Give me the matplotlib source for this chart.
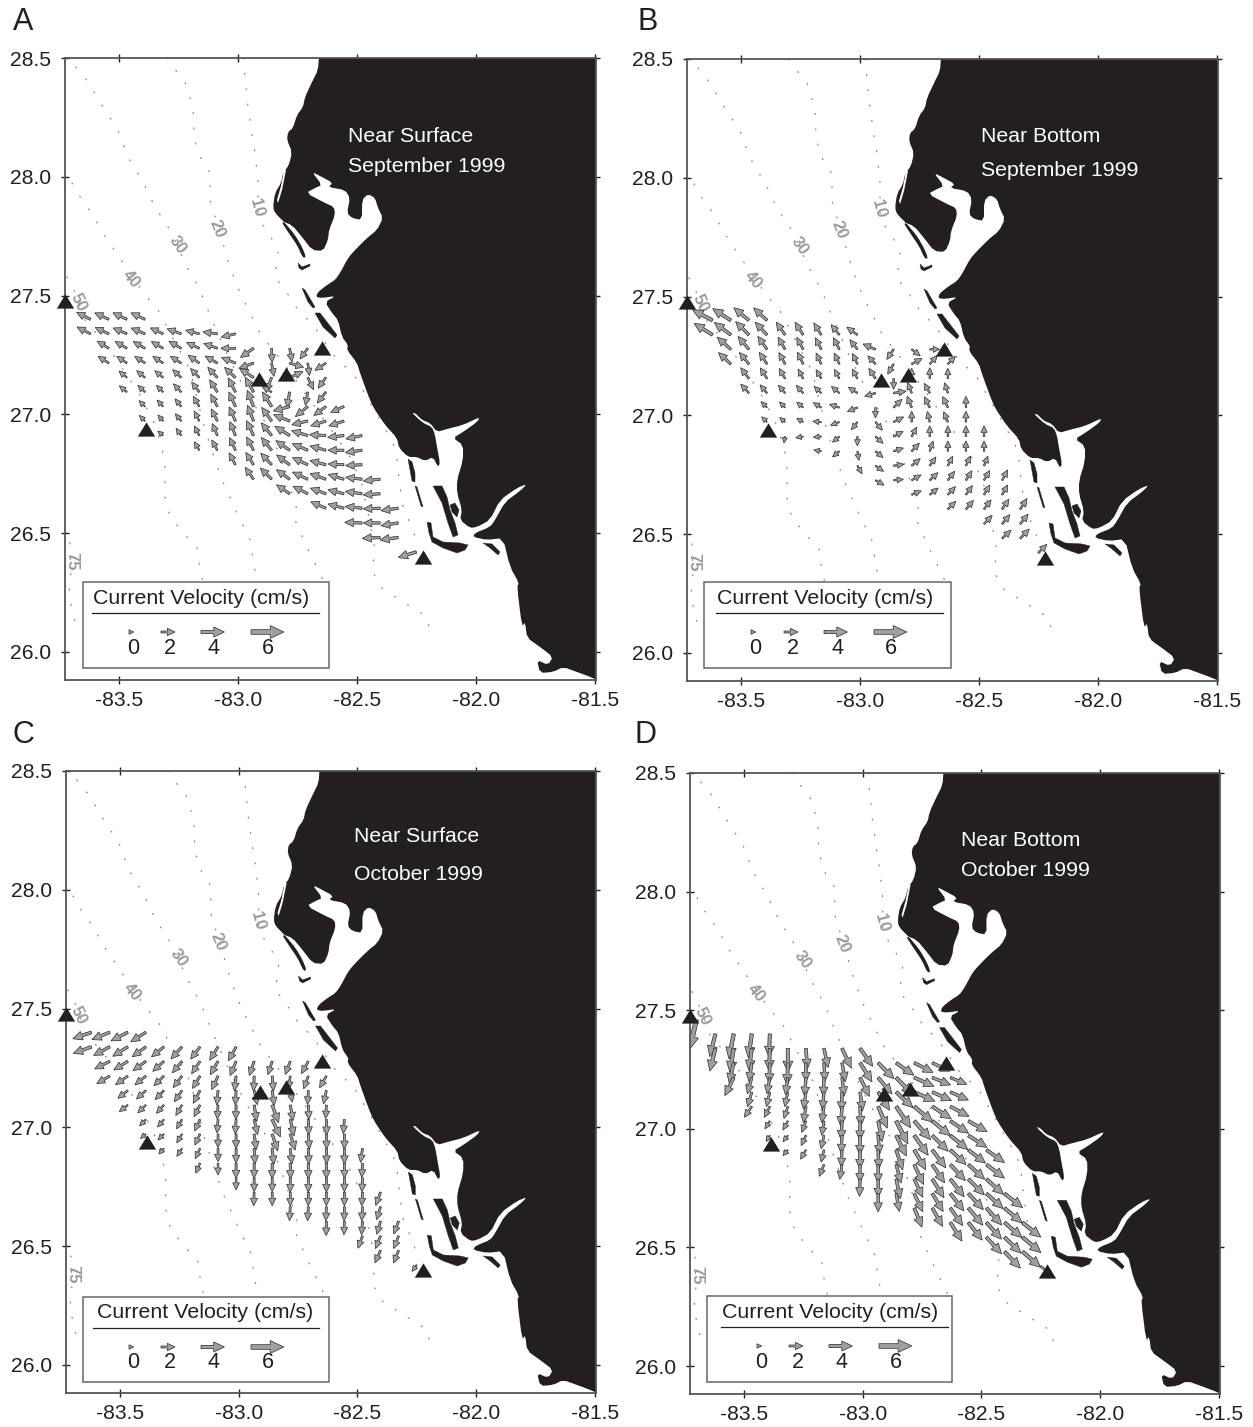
import numpy as np
import matplotlib
matplotlib.use("Agg")
import matplotlib.pyplot as plt
from matplotlib.patches import Rectangle

plt.rcParams['font.family'] = ['Liberation Sans', 'DejaVu Sans']
plt.rcParams['axes.unicode_minus'] = False

W, H = 1253, 1427
INK = '#231f20'

# ---------- measurement grid (degrees) ----------
LON_GRID = [-83.62, -83.543, -83.467, -83.391, -83.315, -83.239, -83.163, -83.087, -83.011, -82.935,
            -82.859, -82.783, -82.707, -82.631, -82.555, -82.479, -82.403, -82.327, -82.251]
LAT_GRID = [27.40, 27.339, 27.278, 27.216, 27.155, 27.094, 27.033, 26.972, 26.911, 26.849,
            26.788, 26.727, 26.666, 26.605, 26.543, 26.482, 26.421]
ROW_FIRST_COL = [0, 0, 1, 1, 2, 2, 3, 3, 4, 6, 8, 9, 11, 13, 15, 16, 18]

# ---------- stations ----------
STATION_LON = [-83.727, -83.387, -82.912, -82.799, -82.648, -82.223]
STATION_LAT = [27.477, 26.938, 27.148, 27.169, 27.279, 26.399]

# ---------- current speed (cm/s) and direction (deg CCW from east) per grid row ----------
SPEED_A = [[2.3, 2.3, 2.3, 2.3],
           [2.2, 2.2, 2.2, 2.2, 2.0, 2.2, 2.0, 2.1, 2.1],
           [1.9, 1.9, 1.9, 1.9, 2.0, 2.0, 2.1, 2.1, 2.4, 2.0, 1.9, 1.8],
           [1.7, 1.6, 1.6, 1.6, 1.7, 1.9, 2.0, 2.2, 2.3, 1.9, 2.1, 1.7, 1.8],
           [1.2, 1.3, 1.3, 1.5, 1.7, 2.0, 2.2, 2.5, 2.3, 2.1, 1.9, 1.8],
           [1.1, 1.1, 1.0, 1.4, 1.7, 2.1, 2.4, 2.6, 1.3, 2.4, 1.9, 2.0],
           [0.8, 0.9, 1.1, 1.5, 2.0, 2.4, 2.7, 2.7, 2.6, 2.4, 2.2, 2.1],
           [0.7, 0.7, 1.0, 1.4, 1.9, 2.3, 2.6, 2.6, 2.7, 2.5, 2.4, 2.4],
           [0.5, 0.9, 1.3, 1.8, 2.2, 2.5, 2.5, 2.7, 2.6, 2.5, 2.5, 2.5],
           [1.1, 1.5, 2.0, 2.2, 2.5, 2.6, 2.6, 2.5, 2.4, 2.6],
           [1.9, 2.1, 2.4, 2.5, 2.6, 2.5, 2.4, 2.5],
           [2.1, 2.4, 2.5, 2.6, 2.6, 2.5, 2.5, 2.6],
           [2.4, 2.5, 2.5, 2.5, 2.6, 2.6],
           [2.5, 2.5, 2.6, 2.6, 2.7],
           [2.7, 2.6, 2.7],
           [2.8, 2.9],
           [3.0]]
DIR_A = [[153, 155, 155, 155],
         [153, 155, 157, 157, 155, 160, 165, 172, 193],
         [148, 150, 150, 150, 150, 155, 160, 180, 215, 272, 280, 234],
         [148, 146, 147, 147, 148, 145, 150, 158, 200, 280, 343, 278, 214],
         [140, 140, 140, 137, 134, 133, 137, 147, 248, 24, 296, 234],
         [140, 137, 135, 133, 127, 122, 117, 119, 150, 260, 260, 232],
         [135, 132, 128, 120, 118, 114, 111, 122, 195, 219, 217, 204],
         [135, 130, 128, 117, 117, 114, 111, 126, 158, 193, 198, 198],
         [140, 125, 117, 113, 112, 115, 129, 148, 163, 177, 187, 192],
         [120, 118, 115, 117, 129, 145, 157, 165, 180, 188],
         [118, 122, 133, 143, 155, 165, 177, 183],
         [125, 135, 144, 155, 160, 163, 173, 186],
         [146, 153, 160, 166, 172, 184],
         [157, 165, 174, 182, 188],
         [178, 180, 189],
         [183, 188],
         [197]]
SPEED_B = [[3.8, 3.6, 3.2, 2.9],
           [3.6, 3.4, 3.0, 2.7, 2.3, 2.2, 2.0, 1.8, 1.8],
           [2.9, 2.6, 2.4, 2.0, 1.9, 1.8, 1.8, 1.6, 1.9, 1.6, 1.3, 1.1],
           [2.6, 2.2, 2.0, 1.8, 1.8, 1.6, 1.6, 1.5, 1.4, 1.5, 1.5, 1.4, 1.3],
           [1.9, 1.7, 1.5, 1.3, 1.2, 1.2, 1.3, 1.6, 1.3, 1.2, 1.3, 1.2],
           [1.6, 1.3, 1.2, 1.2, 1.1, 1.2, 1.3, 1.4, 1.7, 1.4, 1.4, 1.3],
           [0.8, 0.7, 0.8, 1.0, 1.2, 1.3, 1.2, 1.5, 1.6, 1.6, 1.6, 1.4],
           [0.6, 0.5, 0.6, 0.8, 1.0, 1.1, 1.3, 1.4, 1.3, 1.3, 1.4, 1.3],
           [0.4, 0.6, 0.7, 0.9, 1.0, 1.2, 1.3, 1.3, 1.3, 1.3, 1.3, 1.3],
           [0.6, 0.9, 1.0, 1.1, 1.2, 1.4, 1.3, 1.2, 1.2, 1.2],
           [1.0, 1.1, 1.2, 1.4, 1.3, 1.3, 1.3, 1.2],
           [1.1, 1.1, 1.3, 1.4, 1.4, 1.4, 1.4, 1.5],
           [1.2, 1.3, 1.4, 1.4, 1.4, 1.4],
           [1.4, 1.5, 1.5, 1.6, 1.7],
           [1.5, 1.6, 1.7],
           [1.6, 1.8],
           [1.6]]
DIR_B = [[152, 147, 140, 137],
         [148, 143, 135, 133, 125, 123, 122, 129, 144],
         [138, 130, 125, 120, 118, 117, 117, 128, 157, 236, 323, 0],
         [137, 129, 123, 118, 115, 115, 115, 115, 133, 240, 28, 49, 46],
         [127, 122, 120, 118, 120, 118, 118, 123, 270, 90, 90, 90],
         [132, 130, 130, 132, 137, 140, 147, 197, 8, 112, 120, 108],
         [135, 135, 140, 148, 162, 202, 270, 45, 112, 117, 115, 90],
         [135, 140, 150, 175, 200, 232, 310, 27, 90, 103, 112, 90],
         [260, 190, 185, 220, 270, 318, 28, 62, 90, 90, 90, 90],
         [170, 220, 280, 320, 18, 47, 72, 90, 90, 90],
         [300, 325, 8, 40, 55, 63, 65, 68],
         [330, 5, 30, 43, 53, 58, 60, 62],
         [22, 39, 47, 55, 60, 60],
         [45, 50, 53, 56, 58],
         [46, 50, 51],
         [43, 46],
         [45]]
SPEED_C = [[3.2, 3.1, 3.0, 2.8],
           [3.1, 2.9, 2.8, 2.6, 2.4, 2.5, 2.3, 2.4, 2.4],
           [2.6, 2.5, 2.4, 2.2, 2.2, 2.2, 2.3, 2.3, 2.2, 2.0, 2.0, 2.0],
           [2.2, 2.2, 2.0, 2.0, 2.1, 2.1, 2.2, 2.2, 2.2, 2.2, 1.8, 1.9, 1.9],
           [1.7, 1.7, 1.7, 1.9, 2.1, 2.1, 2.1, 2.1, 2.2, 1.5, 2.0, 1.9],
           [1.3, 1.4, 1.4, 1.6, 1.8, 2.0, 2.1, 2.5, 3.0, 2.4, 2.1, 1.9],
           [0.9, 1.1, 1.3, 1.7, 1.9, 2.1, 2.3, 3.1, 2.6, 2.3, 2.3, 2.0],
           [0.5, 0.8, 1.2, 1.6, 1.9, 2.1, 2.4, 2.8, 2.6, 2.2, 2.2, 2.2],
           [0.6, 1.0, 1.4, 1.8, 2.1, 2.3, 2.4, 2.3, 2.3, 2.3, 2.3, 2.0],
           [1.3, 1.5, 2.2, 2.2, 2.3, 2.3, 2.3, 2.3, 2.2, 2.0],
           [1.6, 2.0, 2.0, 2.1, 2.1, 2.1, 2.0, 2.0],
           [1.9, 1.9, 1.9, 1.9, 1.9, 1.9, 1.9, 2.0],
           [2.0, 2.0, 2.0, 2.0, 2.0, 1.9],
           [2.1, 1.9, 1.9, 1.9, 1.9],
           [1.8, 1.9, 1.9],
           [1.9, 1.9],
           [0.7]]
DIR_C = [[199, 202, 207, 212],
         [200, 208, 212, 216, 219, 228, 233, 238, 241],
         [207, 212, 216, 222, 230, 236, 240, 247, 251, 252, 249, 241],
         [210, 215, 219, 224, 233, 239, 245, 264, 268, 275, 263, 250, 240],
         [218, 222, 226, 236, 242, 265, 267, 283, 278, 280, 267, 258],
         [218, 224, 228, 240, 243, 267, 269, 279, 290, 280, 272, 267],
         [225, 230, 240, 245, 266, 267, 283, 295, 283, 272, 271, 265],
         [220, 225, 240, 245, 270, 270, 278, 288, 287, 274, 271, 270],
         [228, 237, 245, 270, 270, 273, 276, 276, 272, 271, 270, 262],
         [247, 270, 270, 270, 270, 271, 270, 270, 270, 267],
         [270, 270, 270, 270, 270, 270, 270, 268],
         [268, 270, 270, 270, 270, 270, 267, 250],
         [267, 267, 268, 269, 267, 253],
         [269, 268, 266, 254, 249],
         [250, 248, 249],
         [246, 248],
         [235]]
SPEED_D = [[4.0, 4.4, 4.2, 3.9],
           [4.0, 4.2, 3.8, 3.8, 4.0, 3.4, 3.2, 3.6, 3.7],
           [3.5, 3.1, 3.4, 3.7, 3.0, 3.0, 3.1, 3.8, 3.8, 3.6, 3.5, 3.2],
           [3.3, 2.6, 2.5, 2.7, 3.0, 3.0, 3.0, 3.5, 3.6, 4.1, 3.6, 3.2, 2.8],
           [2.3, 2.2, 2.2, 2.7, 2.8, 3.1, 3.1, 3.6, 3.9, 3.8, 3.5, 3.2],
           [1.8, 1.6, 1.7, 2.5, 2.5, 3.2, 3.2, 4.0, 4.5, 4.2, 3.8, 3.5],
           [1.0, 1.2, 1.6, 2.1, 3.0, 3.1, 3.5, 4.5, 4.3, 4.0, 3.7, 3.6],
           [0.5, 0.7, 1.4, 1.9, 2.8, 3.1, 3.1, 3.9, 4.2, 3.8, 3.8, 3.7],
           [0.6, 1.3, 1.7, 2.6, 3.0, 3.1, 3.5, 3.9, 3.8, 3.6, 3.6, 3.7],
           [1.7, 2.2, 2.8, 2.9, 3.1, 3.7, 3.7, 3.7, 3.7, 3.8],
           [2.7, 2.9, 3.3, 3.3, 3.7, 3.8, 3.8, 3.9],
           [2.9, 2.9, 3.3, 3.5, 3.7, 3.7, 3.8, 3.9],
           [3.4, 3.5, 3.6, 3.8, 3.9, 3.9],
           [3.7, 3.8, 3.8, 3.9, 4.0],
           [3.8, 3.9, 4.1],
           [3.9, 4.1],
           [2.0]]
DIR_D = [[256, 259, 262, 268],
         [256, 261, 263, 268, 270, 274, 282, 295, 305],
         [258, 262, 268, 268, 270, 273, 280, 302, 315, 325, 333, 335],
         [244, 255, 260, 262, 266, 268, 277, 296, 310, 314, 336, 338, 338],
         [254, 257, 258, 262, 265, 268, 277, 302, 317, 336, 336, 336],
         [235, 243, 252, 261, 262, 266, 272, 293, 304, 320, 327, 332],
         [238, 241, 250, 261, 267, 270, 281, 297, 311, 321, 326, 330],
         [240, 232, 245, 258, 267, 269, 274, 296, 305, 315, 321, 327],
         [230, 240, 257, 267, 269, 272, 288, 300, 307, 317, 322, 325],
         [248, 261, 269, 270, 285, 295, 304, 313, 318, 323],
         [268, 270, 282, 295, 302, 308, 315, 318],
         [270, 280, 295, 301, 308, 313, 318, 322],
         [292, 299, 305, 310, 312, 320],
         [302, 308, 312, 319, 321],
         [312, 316, 320],
         [314, 319],
         [320]]
# extra arrow at the north-west station (panel D only): lon, lat, speed, direction
EXTRA_D = (-83.70, 27.46, 5.5, 257)

LEGEND_SPEEDS = [0, 2, 4, 6]

# ---------- digitised map (map-sheet units, converted to degrees by geo()) ----------
COAST = [(319,56),(318,70),(312,82),(305,97),(303,107),(297,115),(293,128),(288,132),(287,140),(292,152),
         (289,165),(283,173),(281,183),(275,193),(273,207),(275,213),(285,223),(295,235),(302,247),(306,257),
         (303,258),(297,245),(288,232),(281,221),(292,225),(302,237),(312,250),(323,251),(328,240),(329,230),
         (335,215),(334,207),(325,203),(306,193),(315,188),(322,185),(312,172),(320,176),(333,183),(328,187),
         (345,190),(350,198),(347,213),(352,218),(362,220),(362,200),(368,194),(375,198),(378,208),(383,218),
         (377,230),(367,238),(355,250),(348,258),(340,273),(335,280),(327,285),(318,292),(316,297),(322,298),
         (336,296),(325,302),(332,313),(338,320),(342,337),(348,345),(347,350),(357,363),(360,373),(368,395),
         (373,407),(385,425),(397,438),(399,448),(408,457),(417,457),(425,461),(433,457),(438,467),(440,463),
         (437,447),(435,435),(432,427),(423,423),(412,413),(415,413),(422,420),(430,423),(437,432),(447,429),
         (463,425),(480,417),(477,422),(463,432),(453,438),(463,445),(463,460),(457,480),(457,493),(462,510),
         (460,520),(470,528),(477,527),(490,520),(500,500),(517,488),(527,484),(520,491),(505,502),(495,520),
         (490,527),(475,533),(473,537),(487,540),(503,538),(510,567),(519,583),(517,587),(522,627),(525,622),
         (527,638),(540,647),(553,657),(548,665),(537,660),(540,673),(553,672),(563,667),(577,672),(593,678),
         (600,682)]
ISLANDS = [[(302,288),(305,290),(315,307),(313,308),(308,302)],
           [(315,313),(320,313),(337,335),(335,338),(323,327)],
           [(298,263),(302,267),(310,264),(310,266),(302,270),(299,268)],
           [(408,459),(412,462),(415,473),(415,482),(412,481),(410,470)],
           [(415,486),(417,487),(423,507),(421,506)],
           [(427,522),(431,523),(433,537),(443,542),(460,543),(468,545),(465,550),(457,553),(443,548),(432,542),(429,533)],
           [(433,486),(442,486),(447,497),(450,510),(455,523),(458,535),(453,537),(448,523),(442,503)],
           [(450,505),(455,503),(459,510),(457,517),(452,512)],
           [(483,543),(492,544),(500,552),(498,555),(490,548)]]
LAGOONS = [[(284,170),(286,170),(282,190),(278,203),(277,200),(281,186)],
           [(526,640),(530,640),(541,650),(538,654)]]
ISOBATHS = [[(244,58),(244,67),(248,107),(252,135),(255,153),(258,182),(258,218),(270,235),(278,252),(275,277),
             (287,293),(298,310),(313,325),(337,360),(353,373),(380,420),(393,443),(397,460),(400,487),(403,507),
             (413,530),(418,547)],
            [(167,58),(173,67),(185,82),(193,107),(194,138),(200,157),(210,173),(210,200),(222,240),(230,267),
             (240,293),(260,333),(285,365),(310,400),(335,435),(352,460),(362,485),(368,513),(375,550),(372,570),
             (380,587),(397,598),(427,617),(429,627)],
            [(76,67),(88,82),(103,107),(118,130),(128,157),(143,182),(155,207),(170,230),(187,267),(200,290),
             (207,308),(225,350),(245,390),(270,430),(285,470),(297,510),(295,520),(307,547),(323,580)],
            [(72,183),(82,200),(93,215),(102,232),(113,248),(123,263),(145,295),(158,310),(190,370),(205,430),
             (222,480),(237,513),(250,540),(256,577)],
            [(67,277),(72,285),(85,320),(110,350),(140,395),(155,425),(162,447),(165,467),(165,497),(170,517),
             (187,537),(197,547),(200,570),(203,582)],
            [(70,543),(71,582),(69,592),(72,610),(77,629)]]
ISOBATH_NAMES = ['10', '20', '30', '40', '50', '75']
ISOBATH_LABEL_AT = [(257,208),(217,229),(178,245),(131,279),(78,302),(72,561)]
ISOBATH_LABEL_ROT = [-75, -68, -55, -50, -65, -90]

XTICKS = [-83.5, -83.0, -82.5, -82.0, -81.5]
YTICKS = [26.0, 26.5, 27.0, 27.5, 28.0, 28.5]

XLIM = (-83.727, -81.496)
YLIM = (25.882, 28.5)


def smooth(points, cut=0.22):
    p = np.asarray(points, dtype=float)
    out = [p[0]]
    for a, b in zip(p[:-1], p[1:]):
        out.append(a + cut * (b - a))
        out.append(b - cut * (b - a))
    out.append(p[-1])
    return np.array(out)


def geo(points):
    p = np.asarray(points, dtype=float)
    return -83.727 + (p[:, 0] - 65) * 0.0042017, 28.5 - (p[:, 1] - 58) * 0.0042088


PX = 0.0042  # degrees per output pixel


def draw_arrow(ax, lon, lat, speed, direction, z=5):
    length = (4.7 + 4.7 * speed) * PX
    a = np.deg2rad(direction)
    ax.arrow(lon, lat, length * np.cos(a), length * np.sin(a),
             width=(0.7 + 0.65 * speed) * PX, head_width=(4.5 + 1.4 * speed) * PX,
             head_length=(4.7 + 1.5 * speed) * PX, length_includes_head=True,
             fc='#a0a0a0', ec='#2a2a2a', lw=0.5, zorder=z, joinstyle='miter')


PANELS = [
    dict(letter='A', letter_xy=(13, 22), pos=(65, 58, 596, 680), speed=SPEED_A, dirs=DIR_A,
         lines=[('Near Surface', 348, 136), ('September 1999', 348, 167)],
         box=(83, 582, 329, 668), title_x=93, rule=(92, 319), val_x=[133, 170, 214, 268]),
    dict(letter='B', letter_xy=(637, 22), pos=(687, 59, 1218, 681), speed=SPEED_B, dirs=DIR_B,
         lines=[('Near Bottom', 981, 137), ('September 1999', 981, 171)],
         box=(704, 582, 951, 668), title_x=717, rule=(716, 943), val_x=[755, 793, 837, 891]),
    dict(letter='C', letter_xy=(13, 735), pos=(66, 771, 596, 1393), speed=SPEED_C, dirs=DIR_C,
         lines=[('Near Surface', 354, 837), ('October 1999', 354, 875)],
         box=(83, 1297, 329, 1382), title_x=97, rule=(93, 319), val_x=[133, 170, 214, 268]),
    dict(letter='D', letter_xy=(635, 735), pos=(690, 773, 1220, 1394), speed=SPEED_D, dirs=DIR_D,
         lines=[('Near Bottom', 961, 840), ('October 1999', 961, 871)],
         box=(707, 1296, 952, 1382), title_x=722, rule=(721, 948), val_x=[761, 798, 842, 896]),
]
LEGEND_ARROW_BACK = {0: 4, 2: 9, 4: 13, 6: 17}

fig = plt.figure(figsize=(W / 100, H / 100), dpi=100, facecolor='white')

for p in PANELS:
    l, t, r, b = p['pos']
    ax = fig.add_axes([l / W, 1 - b / H, (r - l) / W, (b - t) / H])
    ax.set_xlim(*XLIM)
    ax.set_ylim(*YLIM)

    def to_data(px, py):
        return (XLIM[0] + (px - l) / (r - l) * (XLIM[1] - XLIM[0]),
                YLIM[1] - (py - t) / (b - t) * (YLIM[1] - YLIM[0]))

    # land
    lon, lat = geo(smooth(COAST))
    ax.fill(np.r_[lon, XLIM[1] + 0.02, XLIM[1] + 0.02], np.r_[lat, YLIM[0] - 0.02, YLIM[1] + 0.02],
            color=INK, lw=0, zorder=2)
    for isl in ISLANDS:
        lon, lat = geo(isl)
        ax.fill(lon, lat, color=INK, lw=0.3, zorder=2)
    for lag in LAGOONS:
        lon, lat = geo(lag)
        ax.fill(lon, lat, color='white', lw=0, zorder=3)

    # isobaths
    for iso in ISOBATHS:
        lon, lat = geo(iso)
        ax.plot(lon, lat, color='#8a8a8a', lw=0.95, ls=(0, (0.7, 11)), dash_capstyle='round', zorder=1)
    for name, at, rot in zip(ISOBATH_NAMES, ISOBATH_LABEL_AT, ISOBATH_LABEL_ROT):
        lon, lat = geo([at])
        ax.text(lon[0], lat[0], name, rotation=rot, color='#9a9a9a', fontsize=12, fontweight='bold',
                ha='center', va='center', rotation_mode='anchor', zorder=4)

    # currents
    for row, first in enumerate(ROW_FIRST_COL):
        for i, (s, d) in enumerate(zip(p['speed'][row], p['dirs'][row])):
            draw_arrow(ax, LON_GRID[first + i], LAT_GRID[row], s, d)
    if p['letter'] == 'D':
        draw_arrow(ax, EXTRA_D[0], EXTRA_D[1], EXTRA_D[2], EXTRA_D[3])

    # stations
    ax.plot(STATION_LON, STATION_LAT, ls='none', color=INK, ms=12.5, mew=0, clip_on=False, zorder=7,
            marker=[(-1, -0.82), (1, -0.82), (0, 0.82)])

    # annotation on land
    for txt, px, py in p['lines']:
        x, y = to_data(px, py)
        ax.text(x, y, txt, color='white', fontsize=15.3, ha='left', va='center', zorder=8)

    # legend
    bl, bt, br, bb = p['box']
    x0, y1 = to_data(bl, bt)
    x1, y0 = to_data(br, bb)
    ax.add_patch(Rectangle((x0, y0), x1 - x0, y1 - y0, fc='white', ec='#666666', lw=1.1, zorder=9))
    x, y = to_data(p['title_x'], bt + 16)
    ax.text(x, y, 'Current Velocity (cm/s)', fontsize=15.4, color=INK, ha='left', va='center', zorder=10)
    xa, ya = to_data(p['rule'][0], bt + 31)
    xb, _ = to_data(p['rule'][1], bt + 31)
    ax.plot([xa, xb], [ya, ya], color=INK, lw=0.9, zorder=10)
    for s, vx in zip(LEGEND_SPEEDS, p['val_x']):
        x, y = to_data(vx - LEGEND_ARROW_BACK[s], bt + 50)
        draw_arrow(ax, x, y, s, 0, z=10)
        x, y = to_data(vx, bt + 66)
        ax.text(x, y, str(s), fontsize=15.5, color=INK, ha='center', va='center', zorder=10)

    # axes frame
    for sp in ax.spines.values():
        sp.set_color('#555555')
        sp.set_linewidth(1.3)
        sp.set_zorder(6)
    ax.set_xticks(XTICKS)
    ax.set_yticks(YTICKS)
    ax.set_xticklabels([f'{v:.1f}' for v in XTICKS])
    ax.set_yticklabels([f'{v:.1f}' for v in YTICKS])
    ax.tick_params(direction='inout', length=6, width=1, colors=INK, labelsize=15.2,
                   top=True, right=True)
    ax.tick_params(axis='x', pad=5)
    ax.tick_params(axis='y', pad=7)

    fig.text(p['letter_xy'][0] / W, 1 - p['letter_xy'][1] / H, p['letter'], fontsize=22, color=INK,
             ha='left', va='center')

fig.savefig('out.png', dpi=100, facecolor='white')
